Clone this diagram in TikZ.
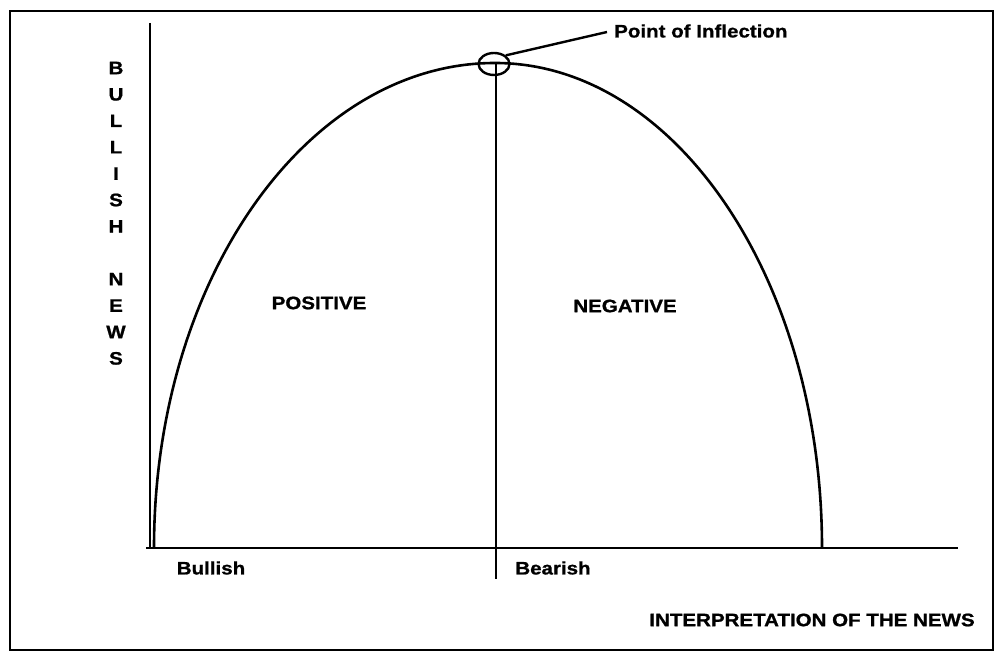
\documentclass[tikz,border=0pt]{standalone}
\usepackage{fontspec}
\setmainfont{Liberation Sans}[FakeStretch=1.14, BoldFeatures={FakeBold=1}]
\usetikzlibrary{shapes.geometric}
\begin{document}
\begin{tikzpicture}[x=1pt,y=1pt,
  lbl/.style={font=\bfseries\fontsize{18}{21}\selectfont, inner sep=0pt},
  ln/.style={line width=2.4pt, black}]
\useasboundingbox (0,0) rectangle (995,652);
% frame
\draw[line width=2.4pt] (10,2) rectangle (993,641);
% axes
\coordinate (ytop) at (150,629);
\coordinate (ybot) at (150,104);
\coordinate (xl) at (146,104);
\coordinate (xr) at (958,104);
\draw[ln] (ytop) -- (ybot);
\draw[ln] (xl) -- (xr);
% curve
\coordinate (cstart) at (154,104);
\coordinate (peak) at (495,589);
\draw[ln, line width=2.6pt] (cstart) arc[start angle=180, end angle=90, x radius=341pt, y radius=485pt]
  arc[start angle=90, end angle=0, x radius=327pt, y radius=485pt];
% vertical divider
\coordinate (vtop) at (496,589);
\coordinate (vbot) at (496,73);
\draw[ln] (vtop) -- (vbot);
% inflection marker
\node[draw, line width=2.4pt, ellipse, minimum width=31pt, minimum height=22pt, inner sep=0pt] (circ) at (494,588) {};
\node[lbl, anchor=west] (poi) at (614,621) {Point of Inflection};
\coordinate (lead) at (607,620);
\draw[ln] (circ.north east) -- (lead);
% vertical axis label
\foreach \ch [count=\i] in {B,U,L,L,I,S,H}
  \node[lbl] (yl\i) at (116,{652-68-26.4*(\i-1)}) {\ch};
\foreach \ch [count=\i] in {N,E,W,S}
  \node[lbl] (yn\i) at (116,{652-279.2-26.4*(\i-1)}) {\ch};
% labels
\node[lbl] (pos) at (319,349) {POSITIVE};
\node[lbl] (neg) at (625,346) {NEGATIVE};
\node[lbl] (bull) at (211,84) {Bullish};
\node[lbl] (bear) at (553,84) {Bearish};
\node[lbl] (xlab) at (812,32) {INTERPRETATION OF THE NEWS};
\end{tikzpicture}
\end{document}
